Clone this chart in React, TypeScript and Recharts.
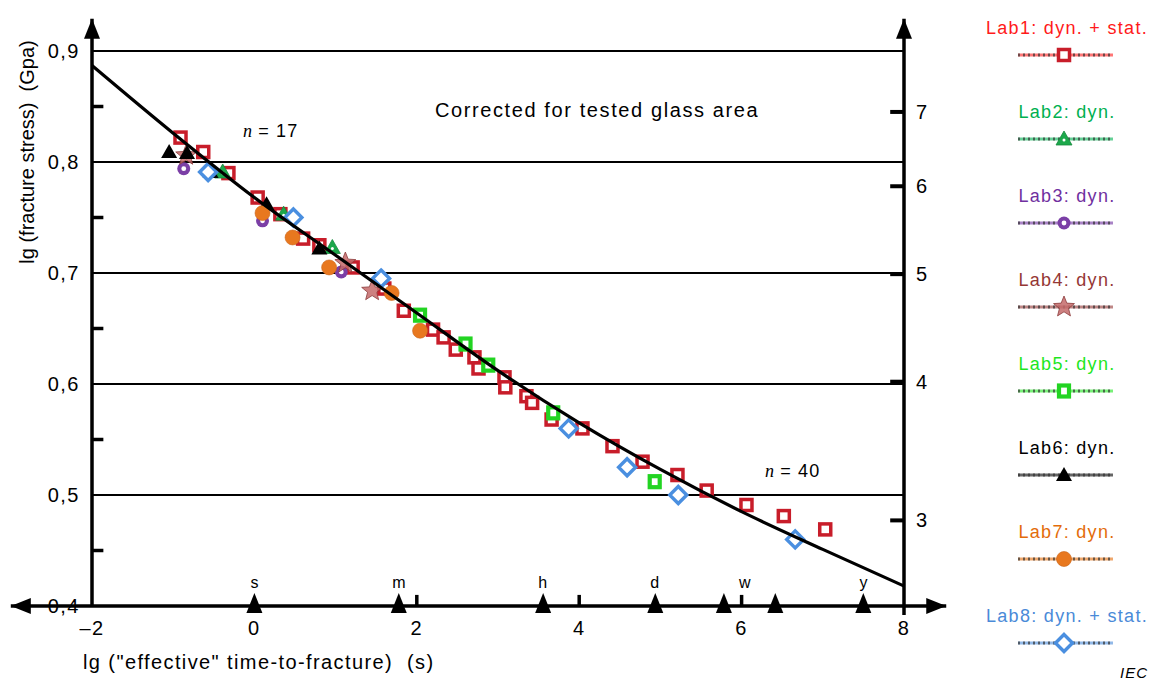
import React from 'react';
import { ComposedChart, Scatter, Line, XAxis, YAxis, ReferenceLine } from 'recharts';

const W = 1155;
const H = 682;
const FONT = '"Liberation Sans", Arial, sans-serif';

// x = lg(effective time-to-fracture / s), y = lg(fracture stress / GPa)
const lab1X = [-0.91, -0.63, -0.32, 0.04, 0.32, 0.6, 0.8, 1.21, 1.6, 1.84, 2.2, 2.33, 2.48, 2.71, 2.76, 3.08, 3.09, 3.35, 3.42, 3.66, 4.04, 4.41, 4.78, 5.21, 5.57, 6.06, 6.52, 7.03];
const lab1Y = [0.822, 0.809, 0.79, 0.768, 0.753, 0.731, 0.725, 0.705, 0.686, 0.666, 0.649, 0.642, 0.631, 0.624, 0.614, 0.606, 0.597, 0.589, 0.583, 0.568, 0.56, 0.544, 0.53, 0.518, 0.504, 0.491, 0.481, 0.469];
const lab2X = [-0.39, 0.36, 0.96];
const lab2Y = [0.791, 0.753, 0.723];
const lab3X = [-0.87, 0.1, 1.07];
const lab3Y = [0.794, 0.747, 0.701];
const lab4X = [-0.84, 1.12, 1.45];
const lab4Y = [0.806, 0.709, 0.684];
const lab5X = [2.04, 2.6, 2.88, 3.68, 4.93];
const lab5Y = [0.662, 0.636, 0.617, 0.574, 0.512];
const lab6X = [-1.05, -0.83, -0.54, 0.15, 0.8];
const lab6Y = [0.809, 0.808, 0.791, 0.762, 0.722];
const lab7X = [0.1, 0.47, 0.92, 1.69, 2.04];
const lab7Y = [0.754, 0.732, 0.705, 0.682, 0.648];
const lab8X = [-0.57, 0.48, 1.56, 3.87, 4.59, 5.22, 6.66];
const lab8Y = [0.791, 0.75, 0.695, 0.56, 0.525, 0.5, 0.46];

// fitted curve
const curveX = [-2, -1, 0, 1, 2, 3, 4, 5, 6, 7, 8];
const curveY = [0.887, 0.826, 0.768, 0.716, 0.664, 0.612, 0.565, 0.523, 0.485, 0.451, 0.418];

const xTicks = [-2, 0, 2, 4, 6, 8];
const yTicks = [0.4, 0.5, 0.6, 0.7, 0.8, 0.9];
const gridY = [0.5, 0.6, 0.7, 0.8, 0.9];
const minorY = [0.45, 0.55, 0.65, 0.75, 0.85];
const innerXTicks = [2, 4, 6];
const stressTicks = [3, 4, 5, 6, 7]; // right axis, GPa

// time units: s, m, h, d, w, month, y  (lg seconds)
const unitMarkX = [0, 1.778, 3.556, 4.937, 5.782, 6.415, 7.499];
const unitLabels = ['s', 'm', 'h', 'd', 'w', 'y'];
const unitLabelX = [0, 1.78, 3.55, 4.93, 6.04, 7.5];

const labNames = ['Lab1: dyn. + stat.', 'Lab2: dyn.', 'Lab3: dyn.', 'Lab4: dyn.', 'Lab5: dyn.', 'Lab6: dyn.', 'Lab7: dyn.', 'Lab8: dyn. + stat.'];
const labText = ['#ff1a1a', '#00b050', '#7030a0', '#953735', '#1ee61e', '#000000', '#e36c0a', '#4a8ad8'];
const labKinds = ['sq', 'tri', 'ring', 'star', 'sq5', 'btri', 'dot', 'dia'];

const pts = (xs: number[], ys: number[]) => xs.map((x, i) => ({ x, y: ys[i] }));
const labData = [pts(lab1X, lab1Y), pts(lab2X, lab2Y), pts(lab3X, lab3Y), pts(lab4X, lab4Y), pts(lab5X, lab5Y), pts(lab6X, lab6Y), pts(lab7X, lab7Y), pts(lab8X, lab8Y)];
const curveData = pts(curveX, curveY);
const unitMarks = unitMarkX.map((x) => ({ x, y: 0.4 }));
const unitTexts = unitLabelX.map((x, i) => ({ x, y: 0.4, label: unitLabels[i] }));

const starPts = (cx: number, cy: number, R: number, r: number) => {
  const out: string[] = [];
  for (let i = 0; i < 10; i++) {
    const a = -Math.PI / 2 + (i * Math.PI) / 5;
    const rr = i % 2 === 0 ? R : r;
    out.push(`${cx + rr * Math.cos(a)},${cy + rr * Math.sin(a)}`);
  }
  return out.join(' ');
};

const marker = (kind: string, cx: number, cy: number) => {
  switch (kind) {
    case 'sq':
      return <rect x={cx - 5.5} y={cy - 5.5} width={11} height={11} fill="#fff" stroke="#c81d2a" strokeWidth={3.5} />;
    case 'sq5':
      return <rect x={cx - 5} y={cy - 5.5} width={10} height={11} fill="#fff" stroke="#22d422" strokeWidth={4.2} />;
    case 'tri':
      return (
        <g>
          <polygon points={`${cx},${cy - 8} ${cx - 8},${cy + 6} ${cx + 8},${cy + 6}`} fill="#1ca84b" stroke="#178a3d" strokeWidth={0.8} />
          <circle cx={cx} cy={cy + 1} r={1.5} fill="#fff" />
        </g>
      );
    case 'ring':
      return (
        <g>
          <circle cx={cx} cy={cy} r={6.5} fill="#7b3fa6" />
          <circle cx={cx} cy={cy} r={2.4} fill="#fff" />
        </g>
      );
    case 'star':
      return <polygon points={starPts(cx, cy, 11, 4.8)} fill="#c46a6a" fillOpacity={0.85} stroke="#8c3b3b" strokeWidth={0.8} />;
    case 'btri':
      return <polygon points={`${cx},${cy - 8} ${cx - 8},${cy + 6} ${cx + 8},${cy + 6}`} fill="#000" />;
    case 'dot':
      return <circle cx={cx} cy={cy} r={7.5} fill="#e8781f" stroke="#c9651a" strokeWidth={0.6} />;
    case 'dia':
      return <polygon points={`${cx},${cy - 8.5} ${cx + 8.5},${cy} ${cx},${cy + 8.5} ${cx - 8.5},${cy}`} fill="#fff" stroke="#4a8fe0" strokeWidth={3.4} />;
    default:
      return null;
  }
};

const head = (tx: number, ty: number, fx: number, fy: number) => {
  const a = Math.atan2(ty - fy, tx - fx);
  const L = 20;
  const hw = 8;
  const bx = tx - L * Math.cos(a);
  const by = ty - L * Math.sin(a);
  const nx = -Math.sin(a) * hw;
  const ny = Math.cos(a) * hw;
  return <polygon points={`${tx},${ty} ${bx + nx},${by + ny} ${bx - nx},${by - ny}`} fill="#000" />;
};

const arrowShape = (both: boolean) => (p: any) => (
  <g>
    <line x1={p.x1} y1={p.y1} x2={p.x2} y2={p.y2} stroke="#000" strokeWidth={3.5} />
    {head(p.x2, p.y2, p.x1, p.y1)}
    {both ? head(p.x1, p.y1, p.x2, p.y2) : null}
  </g>
);

const tickStyle = { fontSize: 20, fill: '#000', fontFamily: FONT, letterSpacing: 1.5 };

export default function App() {
  return (
    <div style={{ position: 'absolute', left: 0, top: 0, width: W, height: H, background: '#fff' }}>
      <ComposedChart width={W} height={H} margin={{ top: 51, right: 0, bottom: 0, left: 0 }}>
        <XAxis
          dataKey="x"
          type="number"
          domain={[-2, 8]}
          ticks={xTicks}
          height={76}
          axisLine={false}
          tickLine={false}
          tickSize={0}
          tickMargin={15}
          tick={tickStyle}
          tickFormatter={(v: number) => (v < 0 ? `\u2013${-v}` : `${v}`)}
        />
        <YAxis
          yAxisId="l"
          type="number"
          domain={[0.4, 0.9]}
          ticks={yTicks}
          width={92}
          axisLine={false}
          tickLine={false}
          tickSize={0}
          tickMargin={12}
          tick={tickStyle}
          tickFormatter={(v: number) => v.toFixed(1).replace('.', ',')}
        />
        <YAxis
          yAxisId="r"
          orientation="right"
          type="number"
          domain={[0.4, 0.9]}
          ticks={stressTicks.map((s) => Math.log10(s))}
          interval={0}
          width={251}
          axisLine={false}
          tickLine={false}
          tickSize={0}
          tickMargin={12}
          tick={tickStyle}
          tickFormatter={(v: number) => `${Math.round(Math.pow(10, v))}`}
        />

        {gridY.map((v) => (
          <ReferenceLine key={`g${v}`} yAxisId="l" y={v} stroke="#000" strokeWidth={2.2} />
        ))}
        {minorY.map((v) => (
          <ReferenceLine key={`m${v}`} yAxisId="l" ifOverflow="visible" segment={[{ x: -2, y: v }, { x: -1.86, y: v }]} stroke="#000" strokeWidth={3.5} />
        ))}
        {stressTicks.map((s) => (
          <ReferenceLine key={`r${s}`} yAxisId="l" ifOverflow="visible" segment={[{ x: 7.83, y: Math.log10(s) }, { x: 8, y: Math.log10(s) }]} stroke="#000" strokeWidth={4} />
        ))}
        {innerXTicks.map((v) => (
          <ReferenceLine key={`x${v}`} yAxisId="l" ifOverflow="visible" segment={[{ x: v, y: 0.4 }, { x: v, y: 0.41 }]} stroke="#000" strokeWidth={3.5} />
        ))}
        <ReferenceLine yAxisId="l" ifOverflow="visible" segment={[{ x: -2, y: 0.4 }, { x: -2, y: 0.929 }]} shape={arrowShape(false)} />
        <ReferenceLine yAxisId="l" ifOverflow="visible" segment={[{ x: 8, y: 0.392 }, { x: 8, y: 0.929 }]} shape={arrowShape(false)} />
        <ReferenceLine yAxisId="l" ifOverflow="visible" segment={[{ x: -3.0, y: 0.4 }, { x: 8.52, y: 0.4 }]} shape={arrowShape(true)} />

        {labData.map((d, i) => (
          <Scatter
            key={labNames[i]}
            name={labNames[i]}
            data={d}
            dataKey="y"
            yAxisId="l"
            isAnimationActive={false}
            shape={(p: any) => marker(labKinds[i], p.cx, p.cy)}
          />
        ))}

        <Scatter
          data={unitMarks}
          dataKey="y"
          yAxisId="l"
          isAnimationActive={false}
          shape={(p: any) => <polygon points={`${p.cx},${p.cy - 13} ${p.cx - 8},${p.cy + 7} ${p.cx + 8},${p.cy + 7}`} fill="#000" />}
        />
        <Scatter
          data={unitTexts}
          dataKey="y"
          yAxisId="l"
          isAnimationActive={false}
          shape={(p: any) => (
            <text x={p.cx} y={p.cy - 24} textAnchor="middle" dominantBaseline="central" fontSize={16} fontFamily={FONT} fill="#000">
              {p.payload.label}
            </text>
          )}
        />

        {/* invisible copy of the curve so the right-hand axis has a series */}
        <Line
          data={curveData}
          dataKey="y"
          yAxisId="r"
          stroke="none"
          dot={false}
          activeDot={false}
          legendType="none"
          isAnimationActive={false}
        />
        <Line
          data={curveData}
          dataKey="y"
          yAxisId="l"
          type="monotone"
          stroke="#000"
          strokeWidth={3.2}
          dot={false}
          activeDot={false}
          isAnimationActive={false}
          zIndex={1000}
        />
      </ComposedChart>

      <svg width={W} height={H} style={{ position: 'absolute', left: 0, top: 0, pointerEvents: 'none' }} fontFamily={FONT}>
        <text transform="translate(27,152) rotate(-90)" textAnchor="middle" dominantBaseline="central" fontSize={20} style={{ whiteSpace: 'pre' }}>
          {'lg (fracture stress)  (Gpa)'}
        </text>
        <text x={83} y={662} dominantBaseline="central" fontSize={20} letterSpacing={1.4} style={{ whiteSpace: 'pre' }}>
          {'lg ("effective" time-to-fracture)  (s)'}
        </text>
        <text x={435} y={110} dominantBaseline="central" fontSize={20} letterSpacing={1.6}>
          Corrected for tested glass area
        </text>
        <text x={243} y={131} dominantBaseline="central" fontSize={18} style={{ whiteSpace: 'pre' }}>
          <tspan fontFamily='"Liberation Serif", serif' fontStyle="italic">n</tspan>
          <tspan letterSpacing={1.2}>{' = 17'}</tspan>
        </text>
        <text x={765} y={471} dominantBaseline="central" fontSize={18} style={{ whiteSpace: 'pre' }}>
          <tspan fontFamily='"Liberation Serif", serif' fontStyle="italic">n</tspan>
          <tspan letterSpacing={1.2}>{' = 40'}</tspan>
        </text>
        <text x={1148} y={672} textAnchor="end" dominantBaseline="central" fontSize={15} fontStyle="italic" letterSpacing={1}>
          IEC
        </text>

        {labNames.map((n, i) => {
          const ty = 28 + i * 84;
          const my = ty + 27;
          return (
            <g key={n}>
              <text x={1067} y={ty} textAnchor="middle" dominantBaseline="central" fontSize={18} letterSpacing={1.3} fill={labText[i]}>
                {n}
              </text>
              <line x1={1018} x2={1113} y1={my} y2={my} stroke={labText[i]} strokeOpacity={0.6} strokeWidth={3} />
              <line x1={1018} x2={1113} y1={my} y2={my} stroke="#333" strokeWidth={3} strokeDasharray="2 3" strokeOpacity={0.7} />
              {marker(labKinds[i], 1064, my)}
            </g>
          );
        })}
      </svg>
    </div>
  );
}
